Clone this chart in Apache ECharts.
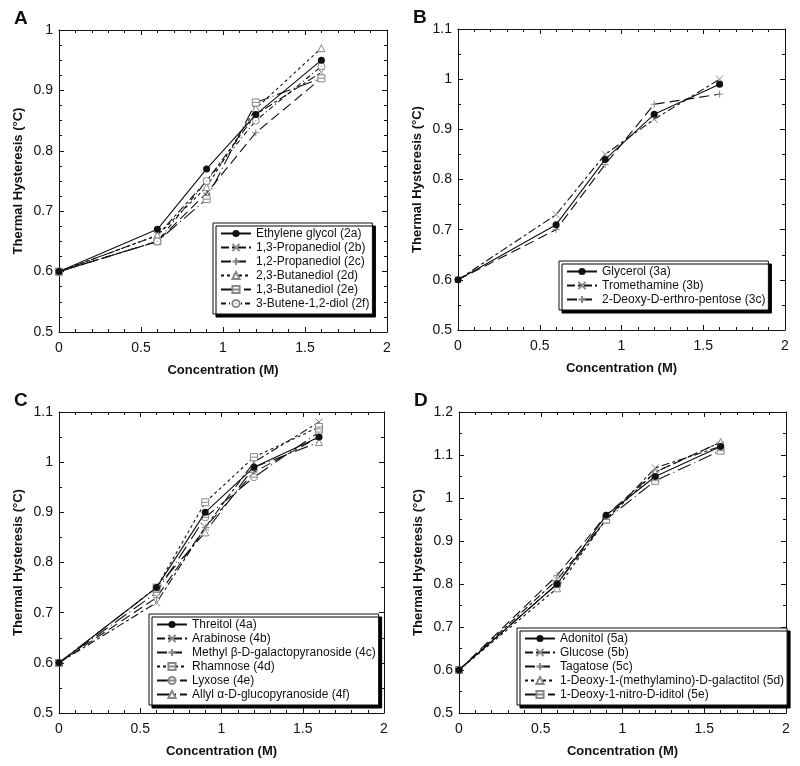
<!DOCTYPE html>
<html>
<head>
<meta charset="utf-8">
<script src="https://cdn.jsdelivr.net/npm/echarts@6/dist/echarts.min.js"></script>
<style>html,body{margin:0;padding:0;background:#fff}#c{width:800px;height:766px}</style>
</head>
<body>
<div id="c"></div>
<script>
// ---------- data ----------
const conc = [0, 0.6, 0.9, 1.2, 1.6];
const xTicks = [0, 0.5, 1, 1.5, 2];

// Panel A
const namesA = ['Ethylene glycol (2a)', '1,3-Propanediol (2b)', '1,2-Propanediol (2c)', '2,3-Butanediol (2d)', '1,3-Butanediol (2e)', '3-Butene-1,2-diol (2f)'];
const ethyleneGlycol = [0.60, 0.67, 0.77, 0.86, 0.95];
const propanediol13 = [0.60, 0.66, 0.75, 0.86, 0.93];
const propanediol12 = [0.60, 0.65, 0.73, 0.83, 0.92];
const butanediol23 = [0.60, 0.66, 0.74, 0.87, 0.97];
const butanediol13 = [0.60, 0.65, 0.72, 0.88, 0.92];
const buteneDiol = [0.60, 0.65, 0.75, 0.85, 0.94];

// Panel B
const namesB = ['Glycerol (3a)', 'Tromethamine (3b)', '2-Deoxy-D-erthro-pentose (3c)'];
const glycerol = [0.60, 0.71, 0.84, 0.93, 0.99];
const tromethamine = [0.60, 0.73, 0.85, 0.92, 1.00];
const deoxyPentose = [0.60, 0.70, 0.83, 0.95, 0.97];

// Panel C
const namesC = ['Threitol (4a)', 'Arabinose (4b)', 'Methyl β-D-galactopyranoside (4c)', 'Rhamnose (4d)', 'Lyxose (4e)', 'Allyl α-D-glucopyranoside (4f)'];
const threitol = [0.60, 0.75, 0.90, 0.99, 1.05];
const arabinose = [0.60, 0.72, 0.87, 1.00, 1.08];
const methylGal = [0.60, 0.73, 0.87, 0.98, 1.05];
const rhamnose = [0.60, 0.75, 0.92, 1.01, 1.07];
const lyxose = [0.60, 0.74, 0.89, 0.97, 1.06];
const allylGlc = [0.60, 0.75, 0.86, 0.99, 1.04];

// Panel D
const namesD = ['Adonitol (5a)', 'Glucose (5b)', 'Tagatose (5c)', '1-Deoxy-1-(methylamino)-D-galactitol (5d)', '1-Deoxy-1-nitro-D-iditol (5e)'];
const adonitol = [0.60, 0.80, 0.96, 1.05, 1.12];
const glucose = [0.60, 0.81, 0.95, 1.07, 1.12];
const tagatose = [0.60, 0.82, 0.96, 1.06, 1.13];
const methylaminoGal = [0.60, 0.79, 0.95, 1.06, 1.13];
const nitroIditol = [0.60, 0.80, 0.95, 1.04, 1.11];

const yRanges = [[0.5, 1.0], [0.5, 1.1], [0.5, 1.1], [0.5, 1.2]];
const panelLetters = ['A', 'B', 'C', 'D'];

// ---------- styles ----------
const FONT = '"Liberation Sans", Arial, Helvetica, sans-serif';
const SYM = {
  dot: 'circle',
  cross: 'path://M0,0L10,10M10,0L0,10',
  plus: 'path://M5,0L5,10M0,5L10,5',
  tri: 'path://M5,0L10,9L0,9Z',
  sq: 'path://M0,0L10,0L10,10L0,10ZM0,5L10,5',
  circDot: 'path://M0,5A5,5 0 1,0 10,5A5,5 0 1,0 0,5ZM4.3,5L5.7,5',
  circLine: 'path://M0,5A5,5 0 1,0 10,5A5,5 0 1,0 0,5ZM0,5L10,5'
};
const DASH = {
  solid: 'solid',
  dashdot: [8, 3, 3, 3],
  long: [10, 5],
  short: [3, 3],
  dotlong: [14, 4, 1, 4],
  dd: [5, 3, 1, 3]
};

const grids = [
  { left: 59, top: 30, width: 328, height: 302 },
  { left: 458, top: 29, width: 327, height: 301 },
  { left: 59, top: 412, width: 325, height: 301 },
  { left: 459, top: 412, width: 327, height: 301 }
];
const ySplit = [4, 2, 2, 2];

const panels = [
  { names: namesA, data: [ethyleneGlycol, propanediol13, propanediol12, butanediol23, butanediol13, buteneDiol],
    sym: ['dot', 'cross', 'plus', 'tri', 'sq', 'circDot'], dash: ['solid', 'dashdot', 'long', 'short', 'dotlong', 'dd'],
    legend: { left: 213, top: 223 } },
  { names: namesB, data: [glycerol, tromethamine, deoxyPentose],
    sym: ['dot', 'cross', 'plus'], dash: ['solid', 'dashdot', 'long'],
    legend: { left: 559, top: 261 } },
  { names: namesC, data: [threitol, arabinose, methylGal, rhamnose, lyxose, allylGlc],
    sym: ['dot', 'cross', 'plus', 'sq', 'circLine', 'tri'], dash: ['solid', 'dashdot', 'long', 'short', 'dotlong', 'dotlong'],
    legend: { left: 149, top: 614 } },
  { names: namesD, data: [adonitol, glucose, tagatose, methylaminoGal, nitroIditol],
    sym: ['dot', 'cross', 'plus', 'tri', 'sq'], dash: ['solid', 'dashdot', 'long', 'short', 'dotlong'],
    legend: { left: 517, top: 628 } }
];

const xAxes = [], yAxes = [], series = [], legends = [], titles = [];
grids.forEach((g, i) => {
  const common = {
    gridIndex: i, type: 'value',
    axisLine: { show: true, onZero: false, lineStyle: { color: '#111', width: 1 } },
    axisTick: { show: true, inside: true, length: 5, lineStyle: { color: '#111' } },
    minorTick: { show: true, length: 3, lineStyle: { color: '#111' } },
    splitLine: { show: false }, minorSplitLine: { show: false }
  };
  xAxes.push(Object.assign({}, common, {
    position: 'bottom', min: xTicks[0], max: xTicks[xTicks.length - 1], interval: 0.5,
    minorTick: Object.assign({}, common.minorTick, { splitNumber: 5 }),
    axisLabel: { color: '#111', fontSize: 14, fontFamily: FONT, margin: 9 },
    name: 'Concentration (M)', nameLocation: 'middle', nameGap: 32,
    nameTextStyle: { color: '#111', fontSize: 13, fontWeight: 'bold', fontFamily: FONT }
  }));
  xAxes.push(Object.assign({}, common, {
    position: 'top', min: xTicks[0], max: xTicks[xTicks.length - 1], interval: 0.5,
    minorTick: Object.assign({}, common.minorTick, { splitNumber: 5 }),
    axisLabel: { show: false }
  }));
  yAxes.push(Object.assign({}, common, {
    position: 'left', min: yRanges[i][0], max: yRanges[i][1], interval: 0.1,
    minorTick: Object.assign({}, common.minorTick, { splitNumber: ySplit[i] }),
    axisLabel: { color: '#111', fontSize: 14, fontFamily: FONT, margin: 6 },
    name: 'Thermal Hysteresis (°C)', nameLocation: 'middle', nameGap: 34,
    nameTextStyle: { color: '#111', fontSize: 13, fontWeight: 'bold', fontFamily: FONT }
  }));
  yAxes.push(Object.assign({}, common, {
    position: 'right', min: yRanges[i][0], max: yRanges[i][1], interval: 0.1,
    minorTick: Object.assign({}, common.minorTick, { splitNumber: ySplit[i] }),
    axisLabel: { show: false }
  }));

  const p = panels[i];
  p.names.forEach((nm, k) => {
    const isDot = p.sym[k] === 'dot';
    series.push({
      type: 'line', name: nm, xAxisIndex: 2 * i, yAxisIndex: 2 * i,
      data: conc.map((c, j) => [c, p.data[k][j]]),
      symbol: SYM[p.sym[k]], symbolSize: 7, showAllSymbol: true,
      lineStyle: { color: '#111', width: 1.1, type: DASH[p.dash[k]] },
      itemStyle: isDot ? { color: '#111' } : { color: '#fff', borderColor: '#888', borderWidth: 1 },
      emphasis: { disabled: true }, animation: false, z: isDot ? 5 : 3
    });
  });

  legends.push({
    data: p.names, orient: 'vertical', left: p.legend.left, top: p.legend.top,
    itemWidth: 30, itemHeight: 9, itemGap: 1, padding: [4, 3, 4, 7],
    backgroundColor: '#fff', borderColor: '#111', borderWidth: 1,
    shadowColor: '#000', shadowBlur: 0, shadowOffsetX: 3, shadowOffsetY: 3,
    textStyle: { color: '#111', fontSize: 12, fontFamily: FONT, lineHeight: 13 },
    selectedMode: false
  });

  titles.push({
    text: panelLetters[i], left: g.left - 45, top: g.top - 21, padding: 0,
    textStyle: { fontSize: 19, fontWeight: 'bold', color: '#111', fontFamily: FONT }
  });
});

const chart = echarts.init(document.getElementById('c'), null, { renderer: 'canvas' });
chart.setOption({
  backgroundColor: '#fff',
  animation: false,
  title: titles,
  grid: grids,
  xAxis: xAxes,
  yAxis: yAxes,
  legend: legends,
  series: series
});
</script>
</body>
</html>
